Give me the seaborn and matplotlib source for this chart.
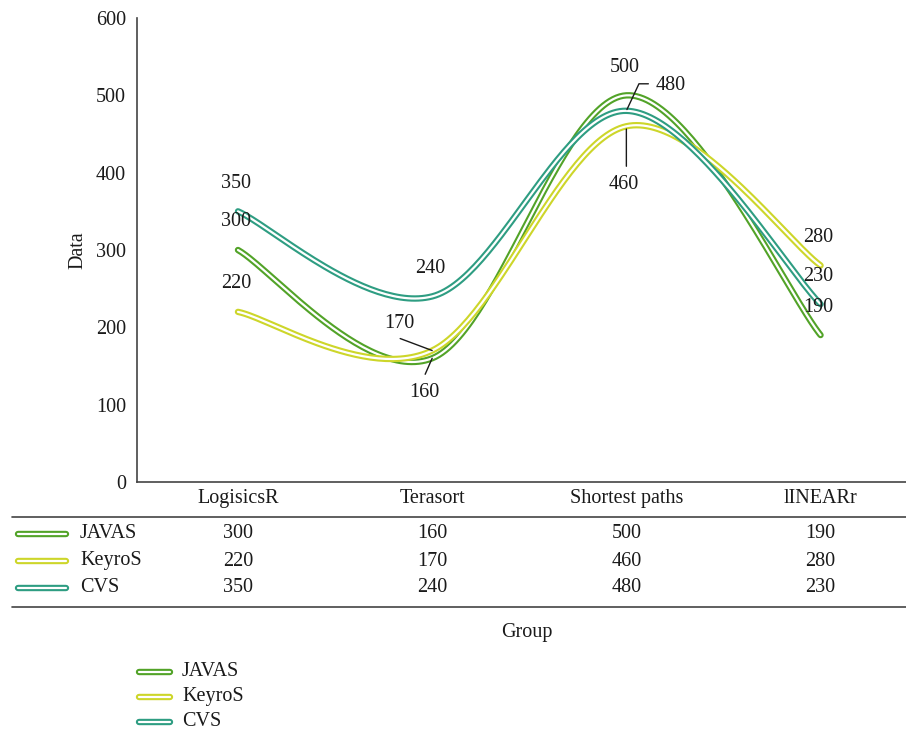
import matplotlib
matplotlib.use('Agg')
import matplotlib.pyplot as plt
import seaborn as sns
import pandas as pd
import numpy as np
from matplotlib.lines import Line2D

groups = ['LogisicsR', 'Terasort', 'Shortest paths', 'lINEARr']
series = ['JAVAS', 'KeyroS', 'CVS']
javas = [300, 160, 500, 190]
keyros = [220, 170, 460, 280]
cvs = [350, 240, 480, 230]
colors = {'JAVAS': '#52a328', 'KeyroS': '#cdd62a', 'CVS': '#2e9d82'}

values = {'JAVAS': javas, 'KeyroS': keyros, 'CVS': cvs}

sns.set_theme(style='white')
plt.rcParams['font.family'] = ['Liberation Serif', 'DejaVu Serif']
plt.rcParams['text.color'] = '#1a1a1a'
plt.rcParams['xtick.color'] = '#1a1a1a'
plt.rcParams['ytick.color'] = '#1a1a1a'
plt.rcParams['axes.labelcolor'] = '#1a1a1a'

FS = 14.5
OUT_LW = 4.6
IN_LW = 1.6


def smooth(xs, ys, n=60):
    # catmull-rom style bezier, like a spreadsheet "smoothed line"
    px = np.array(xs, float)
    py = np.array(ys, float)
    ex = np.concatenate([[px[0]], px, [px[-1]]])
    ey = np.concatenate([[py[0]], py, [py[-1]]])
    out_x, out_y = [], []
    t = np.linspace(0, 1, n)
    for i in range(len(px) - 1):
        p0x, p0y = ex[i + 1], ey[i + 1]
        p3x, p3y = ex[i + 2], ey[i + 2]
        c1x = p0x + (ex[i + 2] - ex[i]) / 6
        c1y = p0y + (ey[i + 2] - ey[i]) / 6
        c2x = p3x - (ex[i + 3] - ex[i + 1]) / 6
        c2y = p3y - (ey[i + 3] - ey[i + 1]) / 6
        bx = (1 - t) ** 3 * p0x + 3 * (1 - t) ** 2 * t * c1x + 3 * (1 - t) * t ** 2 * c2x + t ** 3 * p3x
        by = (1 - t) ** 3 * p0y + 3 * (1 - t) ** 2 * t * c1y + 3 * (1 - t) * t ** 2 * c2y + t ** 3 * p3y
        out_x.extend(bx)
        out_y.extend(by)
    return out_x, out_y


rows = []
for s in series:
    sx, sy = smooth(range(len(groups)), values[s])
    for a, b in zip(sx, sy):
        rows.append({'series': s, 'x': a, 'y': b})
df = pd.DataFrame(rows)

fig = plt.figure(figsize=(9.06, 7.32), dpi=100)
ax = fig.add_axes([137 / 906, (732 - 482) / 732, 1 - 137 / 906, 464 / 732])

for s in series:
    d = df[df['series'] == s]
    sns.lineplot(data=d, x='x', y='y', color=colors[s], linewidth=OUT_LW, sort=False,
                 estimator=None, ax=ax, solid_capstyle='round')
    sns.lineplot(data=d, x='x', y='y', color='white', linewidth=IN_LW, sort=False,
                 estimator=None, ax=ax, solid_capstyle='round')

ax.set_xlim(-0.52, 3.44)
ax.set_ylim(0, 600)
ax.set_yticks(range(0, 601, 100))
ax.set_xticks(range(len(groups)))
ax.set_xticklabels(groups, fontsize=FS)
ax.tick_params(axis='x', length=0, pad=5)
ax.tick_params(axis='y', length=0, pad=8, labelsize=FS)
ax.set_xlabel('')
ax.set_ylabel('Data', fontsize=FS, labelpad=6)
for sp in ['top', 'right']:
    ax.spines[sp].set_visible(False)
for sp in ['left', 'bottom']:
    ax.spines[sp].set_color('#444444')
    ax.spines[sp].set_linewidth(1.2)

# px offsets -> points
k = 0.72
leader = dict(arrowstyle='-', color='#1a1a1a', lw=1, shrinkA=0, shrinkB=0)

# plain labels above points
plain = [('JAVAS', 0), ('KeyroS', 0), ('CVS', 0), ('CVS', 1), ('JAVAS', 2),
         ('KeyroS', 3), ('CVS', 3), ('JAVAS', 3)]
for s, i in plain:
    ax.annotate(str(values[s][i]), (i, values[s][i]), xytext=(-2 * k, 28 * k),
                textcoords='offset points', ha='center', va='center', fontsize=FS)

# labels with leader lines
ax.annotate(str(keyros[1]), (1, keyros[1]), xytext=(-33 * k, 27 * k), textcoords='offset points',
            ha='center', va='center', fontsize=FS)
ax.annotate('', (1, keyros[1]), xytext=(-32 * k, 12 * k), textcoords='offset points',
            arrowprops=leader)
ax.annotate(str(javas[1]), (1, javas[1]), xytext=(-8 * k, -34 * k), textcoords='offset points',
            ha='center', va='center', fontsize=FS)
ax.annotate('', (1, javas[1]), xytext=(-7 * k, -16 * k), textcoords='offset points',
            arrowprops=leader)
ax.annotate(str(cvs[2]), (2, cvs[2]), xytext=(44 * k, 25 * k), textcoords='offset points',
            ha='center', va='center', fontsize=FS)
ax.annotate('', (2, cvs[2]), xytext=(22 * k, 27 * k), textcoords='offset points',
            arrowprops=dict(leader, shrinkB=1, connectionstyle='angle,angleA=0,angleB=65,rad=0'))
ax.annotate(str(keyros[2]), (2, keyros[2]), xytext=(-3 * k, -58 * k), textcoords='offset points',
            ha='center', va='center', fontsize=FS)
ax.annotate('', (2, keyros[2]), xytext=(0, -40 * k), textcoords='offset points',
            arrowprops=dict(leader, shrinkB=2))

# data table under the axis
W, H = 906, 732
fig.add_artist(Line2D([12 / W, 1], [1 - 517 / H] * 2, color='#444444', lw=1.2))
fig.add_artist(Line2D([12 / W, 1], [1 - 607 / H] * 2, color='#444444', lw=1.2))
row_y = [534, 561, 588]
for s, yy in zip(series, row_y):
    fy = 1 - yy / H
    fig.add_artist(Line2D([18 / W, 66 / W], [fy, fy], color=colors[s], lw=OUT_LW, solid_capstyle='round'))
    fig.add_artist(Line2D([18 / W, 66 / W], [fy, fy], color='white', lw=IN_LW, solid_capstyle='round'))
    fig.text(80 / W, fy, s, fontsize=FS, va='center', ha='left')
    for i, v in enumerate(values[s]):
        xf = fig.transFigure.inverted().transform(ax.transData.transform((i, 0)))[0]
        fig.text(xf, fy, str(v), fontsize=FS, ha='center', va='center')

fig.text(527 / W, 1 - 632 / H, 'Group', fontsize=FS, ha='center', va='center')

# legend below
leg_y = [672, 697, 722]
for s, yy in zip(series, leg_y):
    fy = 1 - yy / H
    fig.add_artist(Line2D([139 / W, 170 / W], [fy, fy], color=colors[s], lw=OUT_LW, solid_capstyle='round'))
    fig.add_artist(Line2D([139 / W, 170 / W], [fy, fy], color='white', lw=IN_LW, solid_capstyle='round'))
    fig.text(182 / W, fy, s, fontsize=FS, va='center', ha='left')

fig.savefig('out.png', dpi=100)
